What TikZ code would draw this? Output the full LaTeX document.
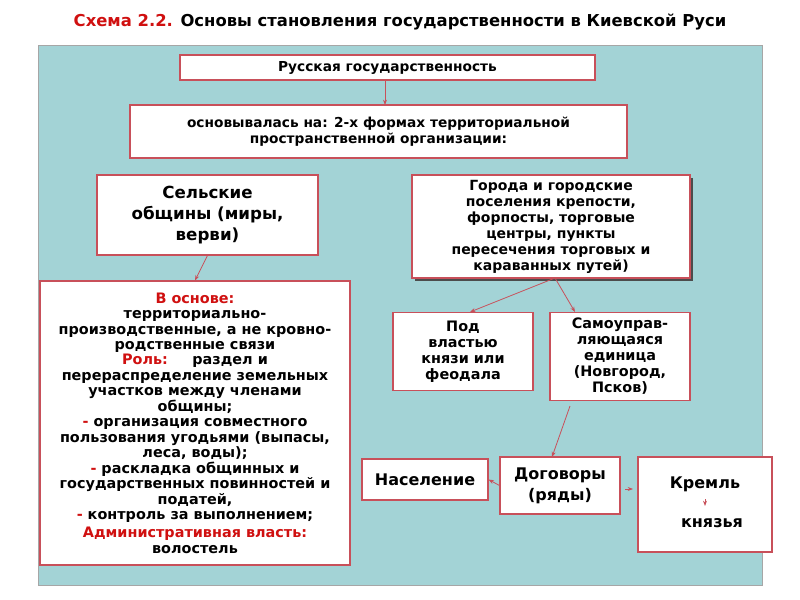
\documentclass[tikz,border=0pt]{standalone}
\usepackage{fontspec}
\setmainfont{DejaVu Sans}
\usetikzlibrary{arrows.meta}
\definecolor{panel}{HTML}{A3D3D6}
\definecolor{rd}{HTML}{D01010}
\definecolor{bd}{HTML}{C8505A}
\tikzset{
 bx/.style={draw=bd, fill=white, line width=0.8pt, align=center, font=\bfseries\fontsize{10.3}{11.8}\selectfont, inner sep=2pt},
 ar/.style={draw=bd, line width=0.6pt, -{Stealth[length=4pt,width=3pt]}}
}
\newcommand{\R}[1]{\textcolor{rd}{#1}}
\begin{document}
\begin{tikzpicture}[x=0.75pt,y=-0.75pt]
\useasboundingbox (0,0) rectangle (800,600);
\fill[white] (0,0) rectangle (800,600);
\node (title) at (400,22) {\bfseries\fontsize{12.3}{14}\selectfont\R{Схема 2.2.} Основы становления государственности в Киевской Руси};
\draw[fill=panel, draw=gray!70] (38,45) rectangle (762,585);
\node[bx, minimum width=415*0.75pt, minimum height=25*0.75pt] (b1) at (387.5,67.5) {Русская государственность};
\node[bx, minimum width=497*0.75pt, minimum height=53*0.75pt] (b2) at (378.5,131.5) {основывалась на: 2-х формах территориальной\\пространственной организации:};
\node[bx, minimum width=221*0.75pt, minimum height=80*0.75pt, font=\bfseries\fontsize{12.5}{15.5}\selectfont] (b3) at (207.5,215) {Сельские\\общины (миры,\\верви)};
\fill[gray!60!black] (415,178) rectangle (693,281);
\node[bx, minimum width=278*0.75pt, minimum height=103*0.75pt, font=\bfseries\fontsize{10.5}{12}\selectfont] (b4) at (551,226.5) {Города и городские\\поселения крепости,\\форпосты, торговые\\центры, пункты\\пересечения торговых и\\караванных путей)};
\node[bx, minimum width=310*0.75pt, minimum height=284*0.75pt, font=\bfseries\fontsize{10.8}{11.6}\selectfont] (b5) at (195,423) {\R{В основе:}\\территориально-\\производственные, а не кровно-\\родственные связи\\\R{Роль:}\quad\ \ раздел и\\перераспределение  земельных\\участков между членами\\общины;\\\R{-} организация совместного\\пользования угодьями (выпасы,\\леса, воды);\\\R{-} раскладка общинных и\\государственных повинностей и\\податей,\\\R{-} контроль за выполнением;\\[2pt]\R{Административная власть:}\\волостель};
\node[bx, minimum width=140*0.75pt, minimum height=78*0.75pt, anchor=north, font=\bfseries\fontsize{10.8}{12}\selectfont] (b6) at (463,312) {Под\\властью\\князи или\\феодала};
\node[bx, minimum width=140*0.75pt, minimum height=88*0.75pt, anchor=north, font=\bfseries\fontsize{10.8}{12}\selectfont] (b7) at (620,312) {Самоуправ-\\ляющаяся\\единица\\(Новгород,\\Псков)};
\node[bx, minimum width=126*0.75pt, minimum height=41*0.75pt, font=\bfseries\fontsize{12}{13}\selectfont] (b8) at (425,479.5) {Население};
\node[bx, minimum width=120*0.75pt, minimum height=57*0.75pt, font=\bfseries\fontsize{12}{16}\selectfont] (b9) at (560,485.5) {Договоры\\(ряды)};
\node[bx, minimum width=134*0.75pt, minimum height=95*0.75pt] (b10) at (705,504.5) {};
\node[font=\bfseries\fontsize{12}{13}\selectfont] (k1) at (705,484) {Кремль};
\node[font=\bfseries\fontsize{12}{13}\selectfont] (k2) at (712,523) {князья};
\coordinate (a1) at (385,80);
\coordinate (a2) at (385,105);
\draw[ar] (a1) -- (a2);
\draw[ar] (b3.south) -- (b5.north);
\coordinate (c4) at (555,278);
\draw[ar] (c4) -- (470,312);
\draw[ar] (c4) -- (575,312);
\draw[ar] (570,406) -- (552,457);
\draw[ar] (b9.west) -- (b8.east);
\coordinate (d1) at (625,489);
\coordinate (d2) at (633,489);
\draw[ar] (d1) -- (d2);
\coordinate (e1) at (705,499);
\coordinate (e2) at (705,506);
\draw[ar] (e1) -- (e2);
\end{tikzpicture}
\end{document}
